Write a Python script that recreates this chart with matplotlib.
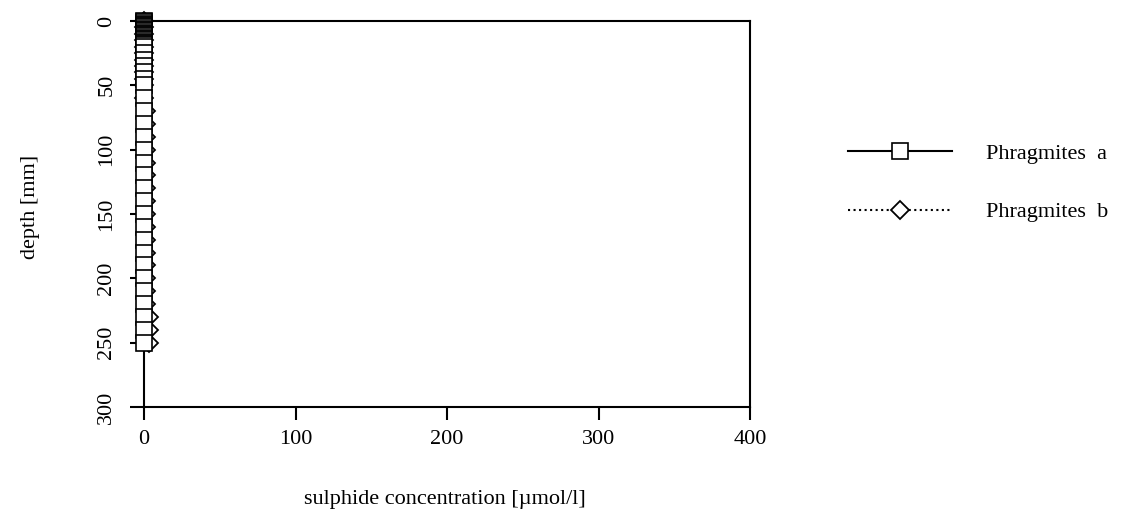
import matplotlib
matplotlib.use("Agg")
import matplotlib.pyplot as plt

# data
depth_a = [0, 1, 2, 3, 4, 5, 6, 7, 8, 9, 10, 11, 12, 13, 14, 15, 16, 17, 18, 19, 20,
           25, 30, 35, 40, 45, 50, 60, 70, 80, 90, 100, 110, 120, 130, 140, 150,
           160, 170, 180, 190, 200, 210, 220, 230, 240, 250]
conc_a = [0.0] * len(depth_a)

depth_b = [0, 5, 10, 15, 20, 25, 30, 35, 40, 45, 50, 60, 70, 80, 90, 100, 110, 120,
           130, 140, 150, 160, 170, 180, 190, 200, 210, 220, 230, 240, 250]
conc_b = [0.2, 0.2, 0.2, 0.2, 0.2, 0.2, 0.2, 0.2, 0.2, 0.2, 0.2, 0.3, 1.3, 1.3, 1.3,
          1.3, 1.2, 1.3, 1.3, 1.3, 1.3, 1.3, 1.3, 1.3, 1.3, 1.3, 1.3, 1.3, 3.3, 3.3, 3.3]

label_a = "Phragmites  a"
label_b = "Phragmites  b"
x_ticks = [0, 100, 200, 300, 400]
y_ticks = [0, 50, 100, 150, 200, 250, 300]

plt.rcParams['font.family'] = ['Liberation Serif', 'DejaVu Serif']
plt.rcParams['font.size'] = 16

fig = plt.figure(figsize=(11.28, 5.17), dpi=100)
ax = fig.add_axes([144/1128, 1 - 407/517, 606/1128, 386/517])

ax.plot(conc_b, depth_b, linestyle=':', color='black', linewidth=1.5,
        marker='D', markersize=9.0, markerfacecolor='white', markeredgecolor='black',
        markeredgewidth=1.3, clip_on=False, zorder=3, label=label_b)
ax.plot(conc_a, depth_a, linestyle='-', color='black', linewidth=1.5,
        marker='s', markersize=12.0, markerfacecolor='white', markeredgecolor='black',
        markeredgewidth=1.2, clip_on=False, zorder=4, label=label_a)

ax.set_xlim(0, 400)
ax.set_ylim(300, 0)
ax.set_xticks(x_ticks)
ax.set_yticks(y_ticks)
for s in ax.spines.values():
    s.set_linewidth(1.5)
    s.set_zorder(2)
ax.tick_params(axis='both', direction='out', width=1.5, length=9.5, pad=7)
ax.tick_params(axis='y', labelrotation=90, length=10, pad=10)
for lab in ax.get_yticklabels():
    lab.set_va('center')

ax.set_xlabel("sulphide concentration [µmol/l]")
ax.xaxis.set_label_coords(0.497, -0.216)
ax.set_ylabel("depth [mm]")
ax.yaxis.set_label_coords(-0.172, 0.518)

handles, labels = ax.get_legend_handles_labels()
leg = fig.legend(handles[::-1], labels[::-1], loc='center left',
                 bbox_to_anchor=(848/1128, 1 - 183/517), frameon=False,
                 handlelength=4.7, handletextpad=1.5, labelspacing=1.7,
                 borderpad=0, borderaxespad=0)

fig.savefig("out.png", dpi=100)
